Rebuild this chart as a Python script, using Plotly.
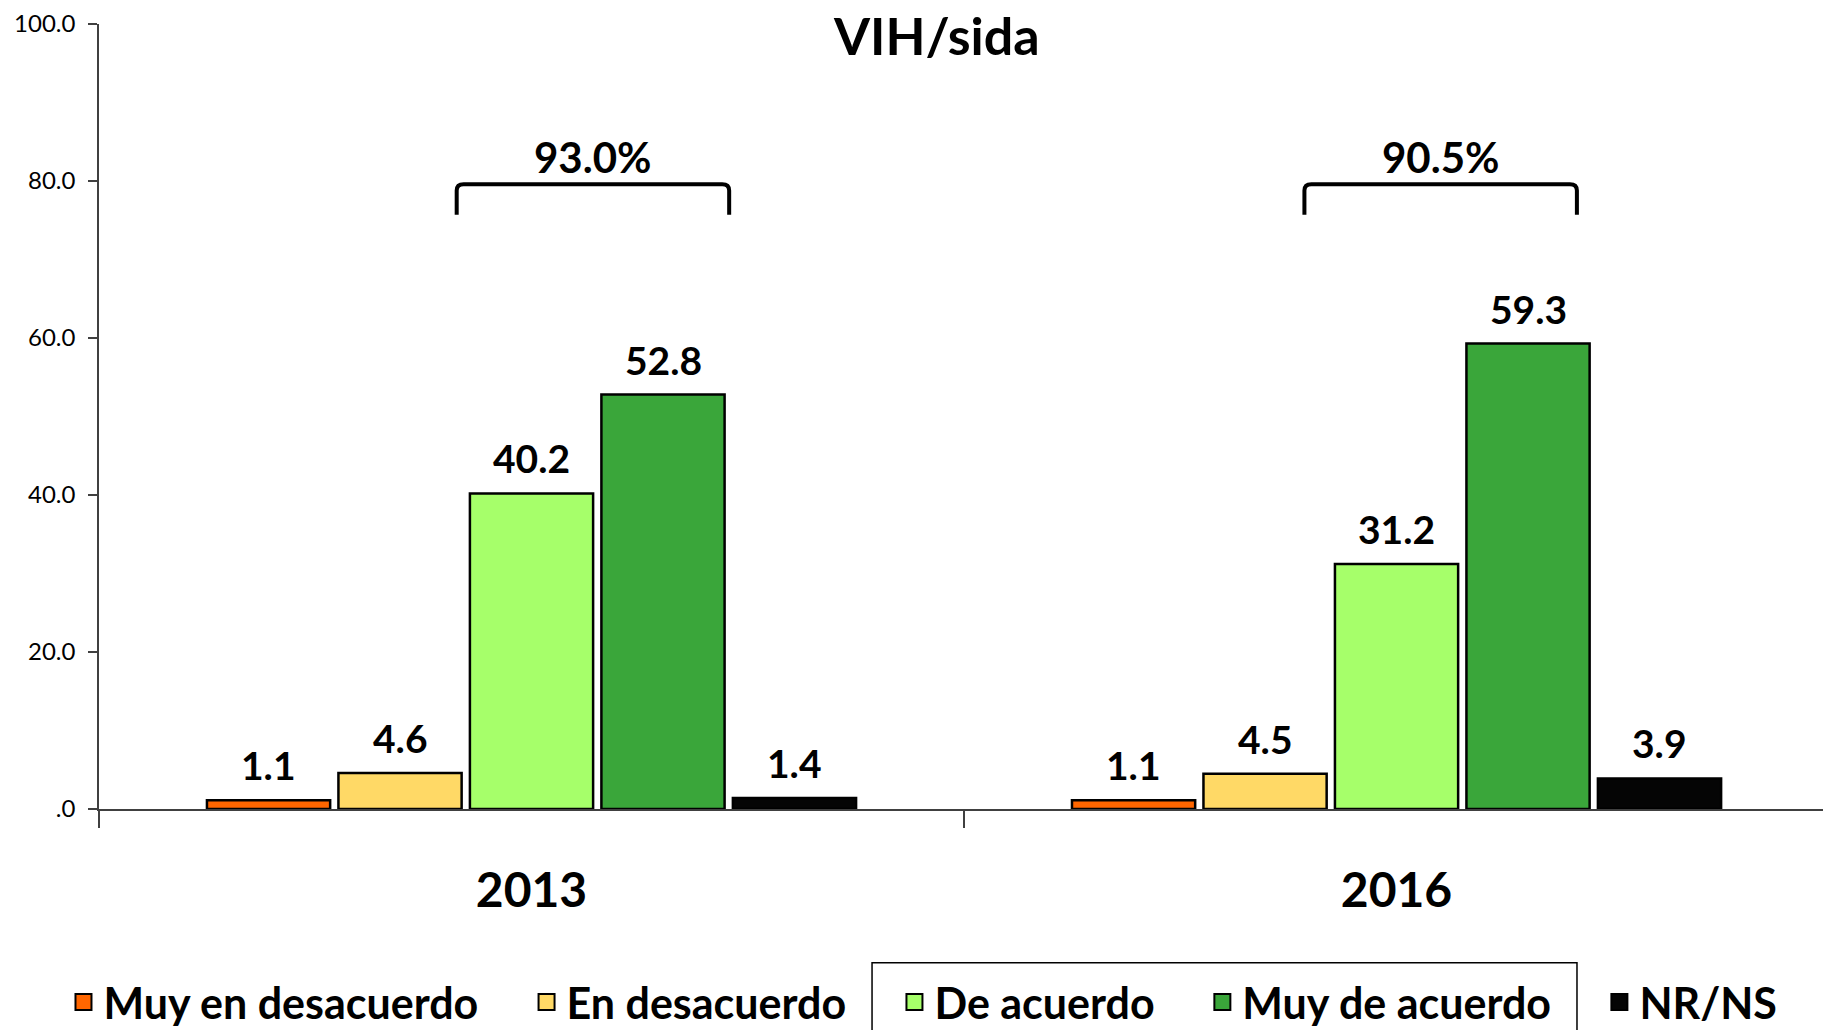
import plotly.graph_objects as go

# ---------------- data ----------------
years = ["2013", "2016"]
series_names = ["Muy en desacuerdo", "En desacuerdo", "De acuerdo", "Muy de acuerdo", "NR/NS"]
muy_en_desacuerdo = [1.1, 1.1]
en_desacuerdo = [4.6, 4.5]
de_acuerdo = [40.2, 31.2]
muy_de_acuerdo = [52.8, 59.3]
nr_ns = [1.4, 3.9]
total_acuerdo_labels = ["93.0%", "90.5%"]
y_tickvals = [0, 20, 40, 60, 80, 100]
y_ticktext = [".0", "20.0", "40.0", "60.0", "80.0", "100.0"]
title_text = "VIH/sida"

series_values = [muy_en_desacuerdo, en_desacuerdo, de_acuerdo, muy_de_acuerdo, nr_ns]
colors = ["#FF6600", "#FFD966", "#A6FF6A", "#3AA63A", "#050505"]

FONT = "Lato"
BARGAP = 0.24
BARGROUPGAP = 0.063
n = len(series_names)
slot = (1 - BARGAP) / n

fig = go.Figure()

legend_ids = ["legend", "legend2", "legend3", "legend4", "legend5"]
for i, (name, vals, col) in enumerate(zip(series_names, series_values, colors)):
    fig.add_trace(go.Bar(
        x=years, y=vals, name=name, legendgroup=name, showlegend=False,
        marker=dict(color=col, line=dict(color="black", width=2.5)),
    ))
    # legend entry (larger square symbol)
    fig.add_trace(go.Scatter(
        x=[None], y=[None], mode="markers", name=name, legendgroup=name,
        legend=legend_ids[i],
        marker=dict(symbol="square", size=16, color=col, line=dict(color="black", width=2)),
    ))

annotations = []
# value labels above bars
for i, vals in enumerate(series_values):
    for j, v in enumerate(vals):
        annotations.append(dict(
            x=j + (i - (n - 1) / 2) * slot, y=v, xref="x", yref="y",
            text=f"{v:.1f}", showarrow=False, yanchor="bottom", yshift=10,
            font=dict(family=FONT, size=39, color="black", weight="bold"),
        ))

# brackets with totals
shapes = []
bracket_offsets = [0.071, 0.051]
half_w = 0.1575
y_top, y_bot = 79.6, 75.7
rx, ry = 0.008, 0.8
for j, lab in enumerate(total_acuerdo_labels):
    cx = j + bracket_offsets[j]
    x0, x1 = cx - half_w, cx + half_w
    path = (f"M{x0},{y_bot} L{x0},{y_top - ry} Q{x0},{y_top} {x0 + rx},{y_top} "
            f"L{x1 - rx},{y_top} Q{x1},{y_top} {x1},{y_top - ry} L{x1},{y_bot}")
    shapes.append(dict(type="path", path=path, xref="x", yref="y",
                       line=dict(color="black", width=4)))
    annotations.append(dict(
        x=cx, y=83.1, xref="x", yref="y", text=lab, showarrow=False, yanchor="middle",
        font=dict(family=FONT, size=42, color="black", weight="bold"),
    ))

# title (second line visible)
annotations.append(dict(
    x=0.486, y=0.9864, xref="paper", yref="paper", text=title_text, showarrow=False,
    yanchor="middle", font=dict(family=FONT, size=52, color="black", weight="bold"),
))

# box around two legend entries
bx0, bx1, by0, by1 = 0.4484, 0.8573, -0.196, -0.40
shapes.append(dict(type="path", xref="paper", yref="paper",
                   path=f"M{bx0},{by1} L{bx0},{by0} L{bx1},{by0} L{bx1},{by1}",
                   line=dict(color="black", width=1.5)))

legend_x = [-0.0206, 0.248, 0.4614, 0.640, 0.8703]
legend_common = dict(orientation="h", yanchor="middle", y=-0.246, xanchor="left",
                     bgcolor="rgba(0,0,0,0)", borderwidth=0,
                     font=dict(family=FONT, size=43, color="black", weight="bold"))
legend_layout = {}
for lid, lx in zip(legend_ids, legend_x):
    legend_layout[lid] = dict(x=lx, **legend_common)

fig.update_layout(
    width=1823, height=1030, autosize=False,
    margin=dict(l=99, r=0, t=24, b=221, pad=0, autoexpand=False),
    paper_bgcolor="white", plot_bgcolor="white",
    barmode="group", bargap=BARGAP, bargroupgap=BARGROUPGAP,
    showlegend=True,
    annotations=annotations, shapes=shapes,
    font=dict(family=FONT, color="black"),
    **legend_layout,
)
fig.update_xaxes(
    type="category", range=[-0.5, 1.493], showline=True, linecolor="#404040", linewidth=1.8,
    ticks="outside", tickson="boundaries", ticklen=17, tickcolor="#404040", tickwidth=1.8,
    tickfont=dict(family=FONT, size=48, color="black", weight="bold"),
    ticklabelstandoff=38, showgrid=False, zeroline=False, automargin=False,
)
fig.update_yaxes(
    range=[0, 100], tickvals=y_tickvals, ticktext=y_ticktext,
    showline=True, linecolor="#404040", linewidth=1.5,
    ticks="outside", ticklen=9, tickcolor="#404040", tickwidth=1.5,
    tickfont=dict(family=FONT, size=24, color="black"),
    ticklabelstandoff=8, showgrid=False, zeroline=False, automargin=False,
)

fig.write_html("out.html", config={"displayModeBar": False},
               post_script="document.body.style.margin='0';document.body.style.overflow='hidden';")
